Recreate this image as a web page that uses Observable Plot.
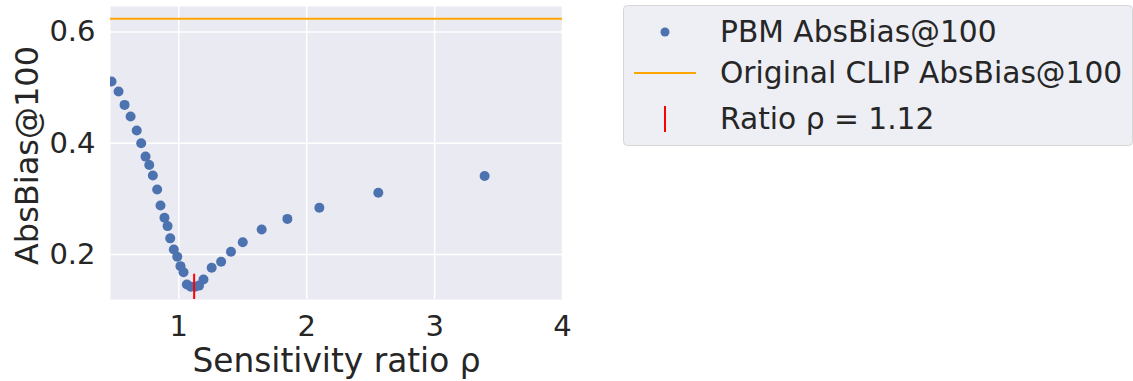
<!DOCTYPE html>
<html>
<head>
<meta charset="utf-8">
<script src="https://cdn.jsdelivr.net/npm/d3@7"></script>
<script src="https://cdn.jsdelivr.net/npm/@observablehq/plot@0.6"></script>
<style>
  body { margin: 0; background: #fff; font-family: "DejaVu Sans", sans-serif; }
  #wrap { position: relative; width: 1133px; height: 381px; overflow: hidden; }
  #legend { position: absolute; left: 623px; top: 5px; }
</style>
</head>
<body>
<div id="wrap"></div>
<script>
// ---- data ----
const rho = [0.474, 0.529, 0.576, 0.623, 0.671, 0.706, 0.740, 0.769, 0.797, 0.831,
             0.857, 0.888, 0.912, 0.933, 0.961, 0.988, 1.013, 1.037, 1.063, 1.095,
             1.127, 1.158, 1.193, 1.257, 1.331, 1.408, 1.500, 1.648, 1.849, 2.099,
             2.560, 3.391];
const absBias = [0.511, 0.493, 0.469, 0.448, 0.423, 0.400, 0.376, 0.361, 0.342, 0.317,
                 0.288, 0.266, 0.251, 0.229, 0.209, 0.196, 0.179, 0.168, 0.146, 0.142,
                 0.142, 0.144, 0.155, 0.176, 0.187, 0.205, 0.222, 0.245, 0.264, 0.284,
                 0.311, 0.341];
const clipAbsBias = 0.624;
const ratioRho = 1.12;
const xTicks = [1, 2, 3, 4];
const yTicks = [0.2, 0.4, 0.6];
const xDomain = [0.466, 4.0];
const yDomain = [0.119, 0.646];
const xLabel = "Sensitivity ratio ρ";
const yLabel = "AbsBias@100";
const legendLabels = ["PBM AbsBias@100", "Original CLIP AbsBias@100", "Ratio ρ = 1.12"];

// ---- styles ----
const BLUE = "#4c72b0", ORANGE = "orange", RED = "red", TXT = "#262626";
const points = rho.map((r, i) => ({rho: r, bias: absBias[i]}));
const minBias = d3.min(absBias);
const vbar = { draw(ctx, size) { const h = Math.sqrt(size / Math.PI); ctx.moveTo(0, -h); ctx.lineTo(0, h); } };

const chart = Plot.plot({
  width: 1133, height: 381,
  marginLeft: 110, marginRight: 571, marginTop: 6, marginBottom: 82,
  style: { fontFamily: "DejaVu Sans", fontSize: "29px", color: TXT, background: "transparent", overflow: "visible" },
  x: { domain: xDomain, ticks: xTicks, tickSize: 0, tickPadding: 16, label: null, tickFormat: d => String(d) },
  y: { domain: yDomain, ticks: yTicks, tickSize: 0, tickPadding: 15, label: null, tickFormat: d3.format(".1f") },
  marks: [
    Plot.frame({ fill: "#eaeaf2", stroke: "none" }),
    Plot.ruleX(xTicks, { stroke: "white", strokeWidth: 1.5 }),
    Plot.ruleY(yTicks, { stroke: "white", strokeWidth: 1.5 }),
    Plot.ruleY([clipAbsBias], { stroke: ORANGE, strokeWidth: 2 }),
    Plot.dot(points, { x: "rho", y: "bias", r: 5, fill: BLUE, stroke: "none", clip: true }),
    Plot.dot([{rho: ratioRho, bias: minBias}], { x: "rho", y: "bias", symbol: vbar, r: 13, stroke: RED, strokeWidth: 2, fill: "none", clip: true }),
    Plot.text([xLabel], { frameAnchor: "bottom", textAnchor: "middle", lineAnchor: "middle", dy: 62, fontSize: 32.8, fill: TXT }),
    Plot.text([yLabel], { frameAnchor: "left", textAnchor: "middle", lineAnchor: "middle", rotate: -90, dx: -83, dy: 2.5, fontSize: 32, fill: TXT })
  ]
});
const wrap = document.getElementById("wrap");
wrap.appendChild(chart);

// ---- legend ----
const lg = d3.select(wrap).append("svg").attr("id", "legend")
  .attr("width", 510).attr("height", 142);
lg.append("rect").attr("x", 0.5).attr("y", 0.5).attr("width", 509).attr("height", 140)
  .attr("rx", 4).attr("fill", "#eeeef5").attr("stroke", "#d6d6d6");
const rowY = [27, 68, 114];
lg.append("circle").attr("cx", 42).attr("cy", rowY[0]).attr("r", 4.5).attr("fill", BLUE);
lg.append("line").attr("x1", 11).attr("x2", 73).attr("y1", rowY[1]).attr("y2", rowY[1])
  .attr("stroke", ORANGE).attr("stroke-width", 2);
lg.append("line").attr("x1", 42).attr("x2", 42).attr("y1", rowY[2] - 13).attr("y2", rowY[2] + 13)
  .attr("stroke", RED).attr("stroke-width", 2);
lg.selectAll("text.lbl").data(legendLabels).join("text").attr("class", "lbl")
  .attr("x", 97).attr("y", (d, i) => rowY[i]).attr("dy", "0.35em")
  .attr("font-family", "DejaVu Sans").attr("font-size", 29.7).attr("fill", TXT)
  .text(d => d);
</script>
</body>
</html>
